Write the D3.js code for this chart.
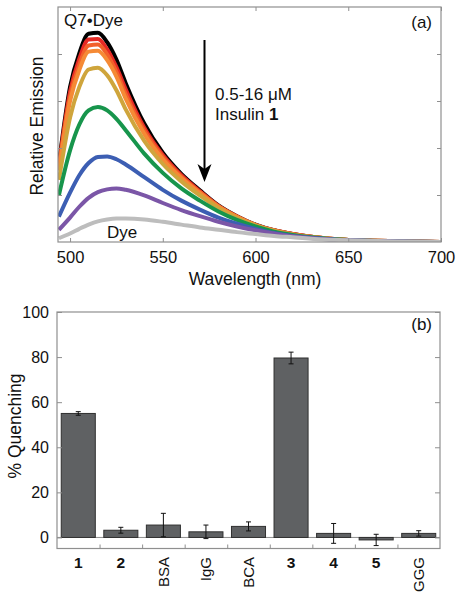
<!DOCTYPE html>
<html><head><meta charset="utf-8">
<script src="https://cdn.jsdelivr.net/npm/d3@7"></script>
<style>
body{margin:0;background:#fff;}
svg{display:block;font-family:"Liberation Sans",Arial,Helvetica,sans-serif;}
</style></head>
<body><svg id="c" width="457" height="600"></svg>
<script>
// ---------- Panel (a) data ----------
const wavelengths = [494, 500, 505, 510, 515, 520, 525, 530, 540, 550, 560, 570, 580, 590, 600, 610, 620, 630, 640, 650, 660, 680, 700];
const emissionQ7Dye   = [1.67, 3.30, 4.02, 4.43, 4.45, 4.25, 3.88, 3.38, 2.52, 1.90, 1.45, 1.10, 0.78, 0.55, 0.37, 0.25, 0.17, 0.11, 0.07, 0.045, 0.03, 0.012, 0.0];
const emission05uM    = [1.62, 3.20, 3.90, 4.31, 4.32, 4.10, 3.72, 3.25, 2.43, 1.85, 1.42, 1.08, 0.77, 0.54, 0.36, 0.25, 0.17, 0.11, 0.07, 0.045, 0.03, 0.012, 0.0];
const emission1uM     = [1.57, 3.10, 3.78, 4.18, 4.20, 3.99, 3.62, 3.15, 2.37, 1.81, 1.39, 1.06, 0.76, 0.54, 0.36, 0.25, 0.17, 0.11, 0.07, 0.045, 0.03, 0.012, 0.0];
const emission2uM     = [1.52, 3.00, 3.66, 4.05, 4.07, 3.87, 3.52, 3.05, 2.30, 1.76, 1.36, 1.04, 0.75, 0.53, 0.36, 0.24, 0.16, 0.11, 0.07, 0.045, 0.03, 0.012, 0.0];
const emission4uM     = [1.32, 2.65, 3.30, 3.67, 3.71, 3.55, 3.23, 2.82, 2.15, 1.66, 1.29, 0.99, 0.72, 0.51, 0.35, 0.24, 0.16, 0.10, 0.07, 0.045, 0.03, 0.012, 0.0];
const emission8uM     = [1.00, 1.95, 2.50, 2.80, 2.87, 2.80, 2.62, 2.38, 1.88, 1.47, 1.14, 0.88, 0.65, 0.47, 0.33, 0.22, 0.15, 0.10, 0.065, 0.042, 0.028, 0.011, 0.0];
const emission12uM    = [0.54, 1.05, 1.42, 1.68, 1.81, 1.82, 1.76, 1.65, 1.38, 1.11, 0.88, 0.69, 0.52, 0.39, 0.28, 0.19, 0.13, 0.09, 0.06, 0.04, 0.026, 0.01, 0.0];
const emission16uM    = [0.26, 0.52, 0.75, 0.94, 1.06, 1.12, 1.14, 1.11, 0.99, 0.83, 0.68, 0.55, 0.43, 0.33, 0.25, 0.18, 0.12, 0.085, 0.055, 0.037, 0.025, 0.01, 0.0];
const emissionDye     = [0.08, 0.18, 0.28, 0.37, 0.44, 0.48, 0.50, 0.50, 0.48, 0.43, 0.37, 0.31, 0.26, 0.21, 0.17, 0.13, 0.10, 0.07, 0.05, 0.035, 0.024, 0.01, 0.0];
const xTicksA = [500, 550, 600, 650, 700];
const yTicksA = [1, 2, 3, 4];

// ---------- Panel (b) data ----------
const categories = ["1", "2", "BSA", "IgG", "BCA", "3", "4", "5", "GGG"];
const boldCategories = ["1", "2", "3", "4", "5"];
const quenching = [55.0, 3.2, 5.5, 2.5, 4.9, 79.6, 1.8, -1.1, 1.8];
const quenchingErr = [0.8, 1.3, 5.2, 3.0, 2.0, 2.6, 4.4, 2.5, 1.2];
const yTicksB = [0, 20, 40, 60, 80, 100];

// ---------- drawing ----------
const svg = d3.select("#c");
const frameColor = "#8f8f8f";
const fontSz = 17;

// Panel (a)
const A = {l: 58, r: 441, t: 7, b: 242};
const xA = d3.scaleLinear().domain([493.5, 700]).range([A.l, A.r]);
const yA = d3.scaleLinear().domain([0, 5]).range([A.b, A.t]);

svg.append("clipPath").attr("id", "clipA").append("rect")
  .attr("x", A.l).attr("y", A.t).attr("width", A.r - A.l).attr("height", A.b - A.t);

const series = [
  {v: emissionQ7Dye, c: "#000000"},
  {v: emission05uM,  c: "#e62a25"},
  {v: emission1uM,   c: "#f2602a"},
  {v: emission2uM,   c: "#f58a35"},
  {v: emission4uM,   c: "#cfa53c"},
  {v: emission8uM,   c: "#17954c"},
  {v: emission12uM,  c: "#3c5eb3"},
  {v: emission16uM,  c: "#7b56a7"},
  {v: emissionDye,   c: "#bdbdbd"}
];
const line = d3.line().x((d, i) => xA(wavelengths[i])).y(d => yA(d)).curve(d3.curveMonotoneX);
const gLines = svg.append("g").attr("clip-path", "url(#clipA)");
series.forEach(s => {
  gLines.append("path").attr("d", line(s.v)).attr("fill", "none")
    .attr("stroke", s.c).attr("stroke-width", 4).attr("stroke-linejoin", "round");
});

// frame + ticks (a)
svg.append("rect").attr("x", A.l).attr("y", A.t).attr("width", A.r - A.l).attr("height", A.b - A.t)
  .attr("fill", "none").attr("stroke", frameColor).attr("stroke-width", 1.2);
const axBA = svg.append("g").attr("transform", `translate(0,${A.b})`)
  .call(d3.axisBottom(xA).tickValues(xTicksA).tickSizeInner(-4).tickSizeOuter(0).tickPadding(9));
const axTA = svg.append("g").attr("transform", `translate(0,${A.t})`)
  .call(d3.axisTop(xA).tickValues(xTicksA).tickSizeInner(-4).tickSizeOuter(0).tickFormat(""));
const axLA = svg.append("g").attr("transform", `translate(${A.l},0)`)
  .call(d3.axisLeft(yA).tickValues(yTicksA).tickSizeInner(-4).tickSizeOuter(0).tickFormat(""));
const axRA = svg.append("g").attr("transform", `translate(${A.r},0)`)
  .call(d3.axisRight(yA).tickValues(yTicksA).tickSizeInner(-4).tickSizeOuter(0).tickFormat(""));
[axBA, axTA, axLA, axRA].forEach(g => {
  g.select(".domain").remove();
  g.selectAll("line").attr("stroke", frameColor);
  g.selectAll("text").attr("font-size", 16.5).attr("fill", "#111").attr("font-family", null);
});

svg.append("text").attr("x", 255).attr("y", 285).attr("text-anchor", "middle")
  .attr("font-size", 17.5).attr("fill", "#111").text("Wavelength (nm)");
svg.append("text").attr("transform", "translate(42.5,126) rotate(-90)").attr("text-anchor", "middle")
  .attr("font-size", 17.5).attr("fill", "#111").text("Relative Emission");
svg.append("text").attr("x", 64).attr("y", 26).attr("font-size", fontSz).attr("fill", "#111").text("Q7•Dye");
svg.append("text").attr("x", 107).attr("y", 238).attr("font-size", fontSz).attr("fill", "#111").text("Dye");
svg.append("text").attr("x", 432).attr("y", 28).attr("text-anchor", "end").attr("font-size", fontSz).attr("fill", "#111").text("(a)");
svg.append("text").attr("x", 215).attr("y", 100).attr("font-size", fontSz).attr("fill", "#111").text("0.5-16 μM");
const ins = svg.append("text").attr("x", 215).attr("y", 120).attr("font-size", fontSz).attr("fill", "#111");
ins.append("tspan").text("Insulin ");
ins.append("tspan").attr("font-weight", "bold").text("1");
// arrow
svg.append("line").attr("x1", 204.5).attr("y1", 40).attr("x2", 204.5).attr("y2", 172)
  .attr("stroke", "#000").attr("stroke-width", 2);
svg.append("path").attr("d", "M197.5,164 L204.5,182 L211.5,164 L204.5,169 Z").attr("fill", "#000");

// Panel (b)
const B = {l: 57, r: 440, t: 312, b: 548.5};
const xB = d3.scaleBand().domain(categories).range([B.l, B.r]).paddingInner(0.2).paddingOuter(0.1);
const xEdges = d3.scaleLinear().domain([0, categories.length]).range([B.l, B.r]);
const yB = d3.scaleLinear().domain([-4.9, 100]).range([B.b, B.t]);

// zero line
svg.append("line").attr("x1", B.l).attr("x2", B.r).attr("y1", yB(0)).attr("y2", yB(0))
  .attr("stroke", frameColor).attr("stroke-width", 1);

svg.append("g").selectAll("rect").data(categories).join("rect")
  .attr("x", d => xB(d)).attr("width", xB.bandwidth())
  .attr("y", (d, i) => yB(Math.max(0, quenching[i])))
  .attr("height", (d, i) => Math.abs(yB(quenching[i]) - yB(0)))
  .attr("fill", "#5f6163").attr("stroke", "#303030").attr("stroke-width", 1);

const eg = svg.append("g").attr("stroke", "#111").attr("stroke-width", 1);
categories.forEach((c, i) => {
  const cx = xB(c) + xB.bandwidth() / 2;
  const y1 = yB(quenching[i] + quenchingErr[i]), y2 = yB(quenching[i] - quenchingErr[i]);
  eg.append("line").attr("x1", cx).attr("x2", cx).attr("y1", y1).attr("y2", y2);
  eg.append("line").attr("x1", cx - 2.5).attr("x2", cx + 2.5).attr("y1", y1).attr("y2", y1);
  eg.append("line").attr("x1", cx - 2.5).attr("x2", cx + 2.5).attr("y1", y2).attr("y2", y2);
});

svg.append("rect").attr("x", B.l).attr("y", B.t).attr("width", B.r - B.l).attr("height", B.b - B.t)
  .attr("fill", "none").attr("stroke", frameColor).attr("stroke-width", 1.2);
const axLB = svg.append("g").attr("transform", `translate(${B.l},0)`)
  .call(d3.axisLeft(yB).tickValues(yTicksB).tickSizeInner(-5).tickSizeOuter(0).tickPadding(8));
const axRB = svg.append("g").attr("transform", `translate(${B.r},0)`)
  .call(d3.axisRight(yB).tickValues(yTicksB).tickSizeInner(-5).tickSizeOuter(0).tickFormat(""));
const axBB = svg.append("g").attr("transform", `translate(0,${B.b})`)
  .call(d3.axisBottom(xEdges).tickValues(d3.range(1, categories.length)).tickSizeInner(-4).tickSizeOuter(0).tickFormat(""));
[axLB, axRB, axBB].forEach(g => {
  g.select(".domain").remove();
  g.selectAll("line").attr("stroke", frameColor);
  g.selectAll("text").attr("font-size", 16).attr("fill", "#111").attr("font-family", null);
});

// category labels
categories.forEach(c => {
  const cx = xB(c) + xB.bandwidth() / 2;
  if (boldCategories.includes(c)) {
    svg.append("text").attr("x", cx).attr("y", 568).attr("text-anchor", "middle")
      .attr("font-size", 15.5).attr("font-weight", "bold").attr("fill", "#111").text(c);
  } else {
    svg.append("text").attr("transform", `translate(${cx + 5.5},557) rotate(-90)`)
      .attr("text-anchor", "end").attr("font-size", 15).attr("fill", "#111").text(c);
  }
});

svg.append("text").attr("transform", "translate(21,426) rotate(-90)").attr("text-anchor", "middle")
  .attr("font-size", 17.5).attr("fill", "#111").text("% Quenching");
svg.append("text").attr("x", 432).attr("y", 330).attr("text-anchor", "end").attr("font-size", fontSz).attr("fill", "#111").text("(b)");
</script></body></html>
